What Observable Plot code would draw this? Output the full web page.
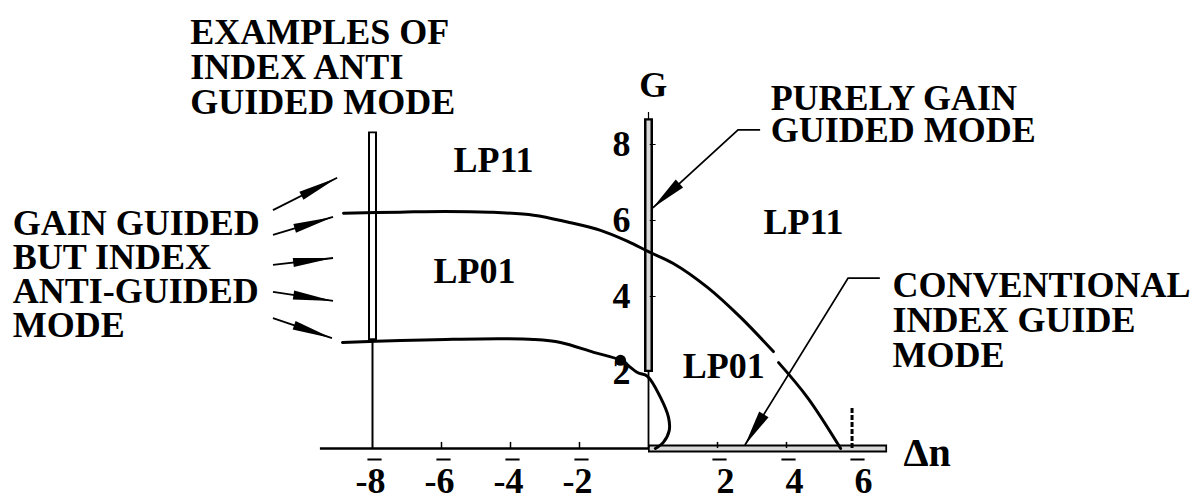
<!DOCTYPE html>
<html>
<head>
<meta charset="utf-8">
<script src="https://cdn.jsdelivr.net/npm/d3@7"></script>
<script src="https://cdn.jsdelivr.net/npm/@observablehq/plot@0.6"></script>
<style>
  html, body { margin: 0; padding: 0; background: #fff; }
  #chart svg { display: block; }
</style>
</head>
<body>
<div id="chart"></div>
<script>
// ---- data ----
const xTicks = [-8, -6, -4, -2, 2, 4, 6];
const yTicks = [2, 4, 6, 8];
// LP11 cutoff curve (two pieces: the drawing breaks where the leader arrow crosses)
const lp11CutoffA = [[-8.84, 6.19], [-7.2, 6.22], [-5.9, 6.24], [-4.6, 6.22], [-3.33, 6.14], [-2.35, 5.96], [-1.39, 5.74], [-0.6, 5.45], [0, 5.18], [0.72, 4.87], [1.71, 4.24], [2.67, 3.45], [3.62, 2.55]];
const lp11CutoffB = [[3.77, 2.26], [4.61, 1.34], [5.57, 0]];
// LP01 cutoff curve
const lp01Cutoff = [[-8.87, 2.79], [-7.19, 2.84], [-5.88, 2.87], [-4.29, 2.89], [-3.33, 2.87], [-2.55, 2.79], [-1.59, 2.53], [-0.81, 2.32], [-0.32, 2.0], [-0.03, 1.9], [0.35, 1.34], [0.58, 0.82], [0.6, 0.47], [0.43, 0.16], [0.2, 0]];
const lp01Dot = [[-0.81, 2.32]];
// example index-anti-guided line at Δn = -8
const antiGuidedX = [-8];
const antiGuidedBar = [2.84, 8.33];
// purely gain guided mode along G axis
const gainGuidedBar = [2, 8.68];
// conventional index guided mode along Δn axis
const indexGuidedBar = [0, 6.93];
const cutoffDash = [[5.9, 0, 1.08]];

// ---- annotations ----
const labels = [
  {text: "EXAMPLES OF\nINDEX ANTI\nGUIDED MODE", x: -13.28, y: 11.30, lh: 0.97},
  {text: "PURELY GAIN\nGUIDED MODE", x: 3.54, y: 9.49, lh: 0.88},
  {text: "GAIN GUIDED\nBUT INDEX\nANTI-GUIDED\nMODE", x: -18.43, y: 6.24, lh: 0.94},
  {text: "CONVENTIONAL\nINDEX GUIDE\nMODE", x: 7.07, y: 4.63, lh: 0.97},
  {text: "LP11", x: -5.65, y: 7.94, lh: 1},
  {text: "LP01", x: -6.23, y: 5.04, lh: 1},
  {text: "LP11", x: 3.33, y: 6.33, lh: 1},
  {text: "LP01", x: 0.99, y: 2.52, lh: 1}
];
const axisNames = [
  {text: "G", x: 0.14, y: 9.91, anchor: "middle"},
  {text: "Δn", x: 7.39, y: 0.28, anchor: "start"}
];
const arrows = [
  {path: [[-10.87, 6.26], [-9.01, 7.11]], len: 40, w: 9},
  {path: [[-10.87, 5.61], [-9.13, 6.08]], len: 40, w: 9},
  {path: [[-10.87, 4.82], [-9.13, 5.0]], len: 40, w: 9},
  {path: [[-10.87, 4.11], [-9.13, 3.87]], len: 40, w: 9},
  {path: [[-10.87, 3.42], [-9.16, 2.89]], len: 40, w: 9},
  {path: [[3.25, 8.37], [2.61, 8.37], [0.14, 6.32]], len: 36, w: 11},
  {path: [[6.72, 4.47], [5.80, 4.47], [2.81, 0.08]], len: 36, w: 11}
];

const FONT = "Liberation Serif";
const txt = {fontSize: 36, fontWeight: "bold", fontFamily: FONT, fill: "black"};

const hline = {
  draw(ctx, size) {
    const r = Math.sqrt(size);
    ctx.moveTo(-r, 0);
    ctx.lineTo(r, 0);
  }
};

function arrowMark(list) {
  return (index, scales) => {
    const g = d3.create("svg:g");
    for (const a of list) {
      const pts = a.path.map(([u, v]) => [scales.x(u), scales.y(v)]);
      g.append("path")
        .attr("d", d3.line()(pts))
        .attr("fill", "none")
        .attr("stroke", "black")
        .attr("stroke-width", 1.8);
      const [x1, y1] = pts[pts.length - 2];
      const [x2, y2] = pts[pts.length - 1];
      const ang = Math.atan2(y2 - y1, x2 - x1);
      const c = Math.cos(ang), s = Math.sin(ang);
      const bx = x2 - a.len * c, by = y2 - a.len * s;
      const hw = a.w / 2;
      g.append("path")
        .attr("d", `M${x2},${y2}L${bx - hw * s},${by + hw * c}L${bx + hw * s},${by - hw * c}Z`)
        .attr("fill", "black");
    }
    return g.node();
  };
}

const px = d => d[0], py = d => d[1];

const chart = Plot.plot({
  width: 1194,
  height: 502,
  marginLeft: 372,
  marginRight: 339,
  marginTop: 144,
  marginBottom: 54,
  x: {domain: [-8, 6], axis: null},
  y: {domain: [0, 8], axis: null},
  style: {background: "white", fontFamily: FONT},
  marks: [
    // negative Δn axis (single line)
    Plot.ruleY([0], {x1: -9.51, x2: 0, stroke: "black", strokeWidth: 2.5}),
    // Δn >= 0 axis: conventional index guided (double line)
    Plot.ruleY([0], {x1: () => indexGuidedBar[0], x2: () => indexGuidedBar[1], stroke: "black", strokeWidth: 8}),
    Plot.ruleY([0], {x1: () => indexGuidedBar[0] + 0.05, x2: () => indexGuidedBar[1] - 0.05, stroke: "#d8d8d8", strokeWidth: 4}),
    // G axis: single line below G=2
    Plot.ruleX([0], {y1: 0, y2: () => gainGuidedBar[0], stroke: "black", strokeWidth: 1.8}),
    // G axis: purely gain guided (double line)
    Plot.ruleX([0], {y1: () => gainGuidedBar[0], y2: () => gainGuidedBar[1] + 0.16, stroke: "black", strokeWidth: 1.2}),
    Plot.ruleX([0], {y1: () => gainGuidedBar[0], y2: () => gainGuidedBar[1], stroke: "black", strokeWidth: 9}),
    Plot.ruleX([0], {y1: () => gainGuidedBar[0] + 0.06, y2: () => gainGuidedBar[1] - 0.06, stroke: "#d8d8d8", strokeWidth: 4}),
    Plot.ruleY([4, 6, 8], {x1: 0.05, x2: 0.22, stroke: "black", strokeWidth: 1}),
    // Δn = -8 example line
    Plot.ruleX(antiGuidedX, {y1: 0, y2: () => antiGuidedBar[0], stroke: "black", strokeWidth: 2}),
    Plot.ruleX(antiGuidedX, {y1: () => antiGuidedBar[0], y2: () => antiGuidedBar[1], stroke: "black", strokeWidth: 9}),
    Plot.ruleX(antiGuidedX, {y1: () => antiGuidedBar[0] + 0.05, y2: () => antiGuidedBar[1] - 0.05, stroke: "white", strokeWidth: 5}),
    // small tick marks on Δn axis
    Plot.ruleX(xTicks.filter(t => t !== -8 && t !== 6), {y1: 0, y2: 0.16, stroke: "black", strokeWidth: 1.5}),
    // dashed cutoff marker near Δn = 6
    Plot.ruleX(cutoffDash, {x: d => d[0], y1: d => d[1], y2: d => d[2], stroke: "black", strokeWidth: 3, strokeDasharray: "5,2"}),
    // cutoff curves
    Plot.line(lp01Cutoff, {x: px, y: py, curve: "catmull-rom", stroke: "black", strokeWidth: 3}),
    Plot.line(lp11CutoffA, {x: px, y: py, curve: "catmull-rom", stroke: "black", strokeWidth: 3}),
    Plot.line(lp11CutoffB, {x: px, y: py, curve: "catmull-rom", stroke: "black", strokeWidth: 3}),
    Plot.dot(lp01Dot, {x: px, y: py, r: 5.5, fill: "black"}),
    // tick labels
    Plot.dot(xTicks, {x: d => d, y: () => 0, dy: 11, dx: 2, symbol: hline, r: 4, stroke: "black", strokeWidth: 2}),
    Plot.text(xTicks.filter(t => t < 0), {x: d => d, y: () => 0, text: d => String(d), dy: 19, dx: -2, lineAnchor: "top", textAnchor: "middle", ...txt}),
    Plot.text(xTicks.filter(t => t > 0), {x: d => d, y: () => 0, text: d => String(d), dy: 19, dx: 8, lineAnchor: "top", textAnchor: "middle", ...txt}),
    Plot.text(yTicks, {x: () => 0, y: d => d, text: d => String(d), dx: -18, lineAnchor: "middle", textAnchor: "end", ...txt}),
    // axis names
    ...axisNames.map(a => Plot.text([a], {x: "x", y: "y", text: "text", lineAnchor: "top", textAnchor: a.anchor, ...txt, fontSize: a.text === "Δn" ? 40 : 36})),
    // annotation labels
    ...labels.map(l => Plot.text([l], {x: "x", y: "y", text: "text", lineAnchor: "top", textAnchor: "start", lineHeight: l.lh, ...txt})),
    // arrows
    arrowMark(arrows)
  ]
});
document.getElementById("chart").append(chart);
</script>
</body>
</html>
